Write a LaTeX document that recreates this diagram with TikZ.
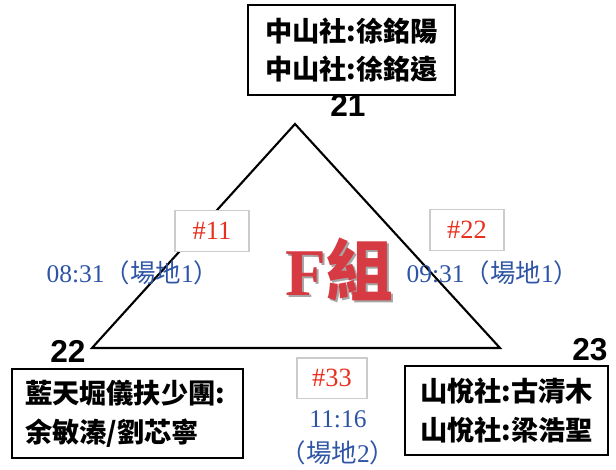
\documentclass[tikz,border=0pt]{standalone}
\usepackage{fontspec}
\setmainfont{Liberation Serif}
\newfontfamily\cjk{Noto Sans CJK TC}
\newfontfamily\numfont{Liberation Sans}
\definecolor{timeblue}{RGB}{46,84,165}
\definecolor{gamered}{RGB}{232,48,30}
\definecolor{groupred}{RGB}{214,58,66}
\begin{document}
\begin{tikzpicture}
[x=0.02cm,y=-0.02cm,
team/.style={draw,line width=1.3pt,align=left,inner sep=0pt,font=\cjk\bfseries\fontsize{15.5}{22}\selectfont},
seed/.style={font=\numfont\bfseries\fontsize{18}{18}\selectfont},
game/.style={draw=black!20,line width=0.8pt,minimum width=42pt,minimum height=23pt,inner sep=0pt,text=gamered,font=\fontsize{15}{15}\selectfont},
slot/.style={text=timeblue,font=\fontsize{14.5}{20}\selectfont,align=center},]
\useasboundingbox (0,0) rectangle (616,470);
% triangle of the group
\coordinate (T) at (295,124);
\coordinate (L) at (92,348);
\coordinate (R) at (500,348);
\draw[line width=1.2pt] (T)--(L)--(R)--cycle;
% seeds
\node (s21) at (348,105)[seed]{21};
\node (s22) at (68,351)[seed]{22};
\node (s23) at (590,350)[seed]{23};
% teams
\node (t21) at (351.5,50)[team,minimum width=4.14cm,minimum height=1.8cm]{中山社:徐銘陽\\中山社:徐銘遠};
\node (t22) at (127.5,413.5)[team,minimum width=4.62cm,minimum height=1.78cm,text width=4.1cm]{藍天堀儀扶少團:\\余敏溱/劉芯寧};
\node (t23) at (506.5,410.5)[team,minimum width=4.06cm,minimum height=1.78cm]{山悅社:古清木\\山悅社:梁浩聖};
% games
\node (g11) at (212,231)[game,fill=white]{\#11};
\node (g22) at (467,230)[game,fill=white]{\#22};
\node (g33) at (332,378)[game,minimum width=40pt]{\#33};
\node (d11) at (133,273)[slot]{08:31{\cjk （場地}1{\cjk ）}};
\node (d22) at (493,273)[slot]{09:31{\cjk （場地}1{\cjk ）}};
\node (d33) at (338,438)[slot]{11:16\\{\cjk （場地}2{\cjk ）}};
% group name
\node (grps) at (341,271)[text=black!35,font=\bfseries\fontsize{38}{38}\selectfont]{F{\cjk 組}};
\node (grp) at (339,269)[text=groupred,font=\bfseries\fontsize{38}{38}\selectfont]{F{\cjk 組}};
\end{tikzpicture}
\end{document}
